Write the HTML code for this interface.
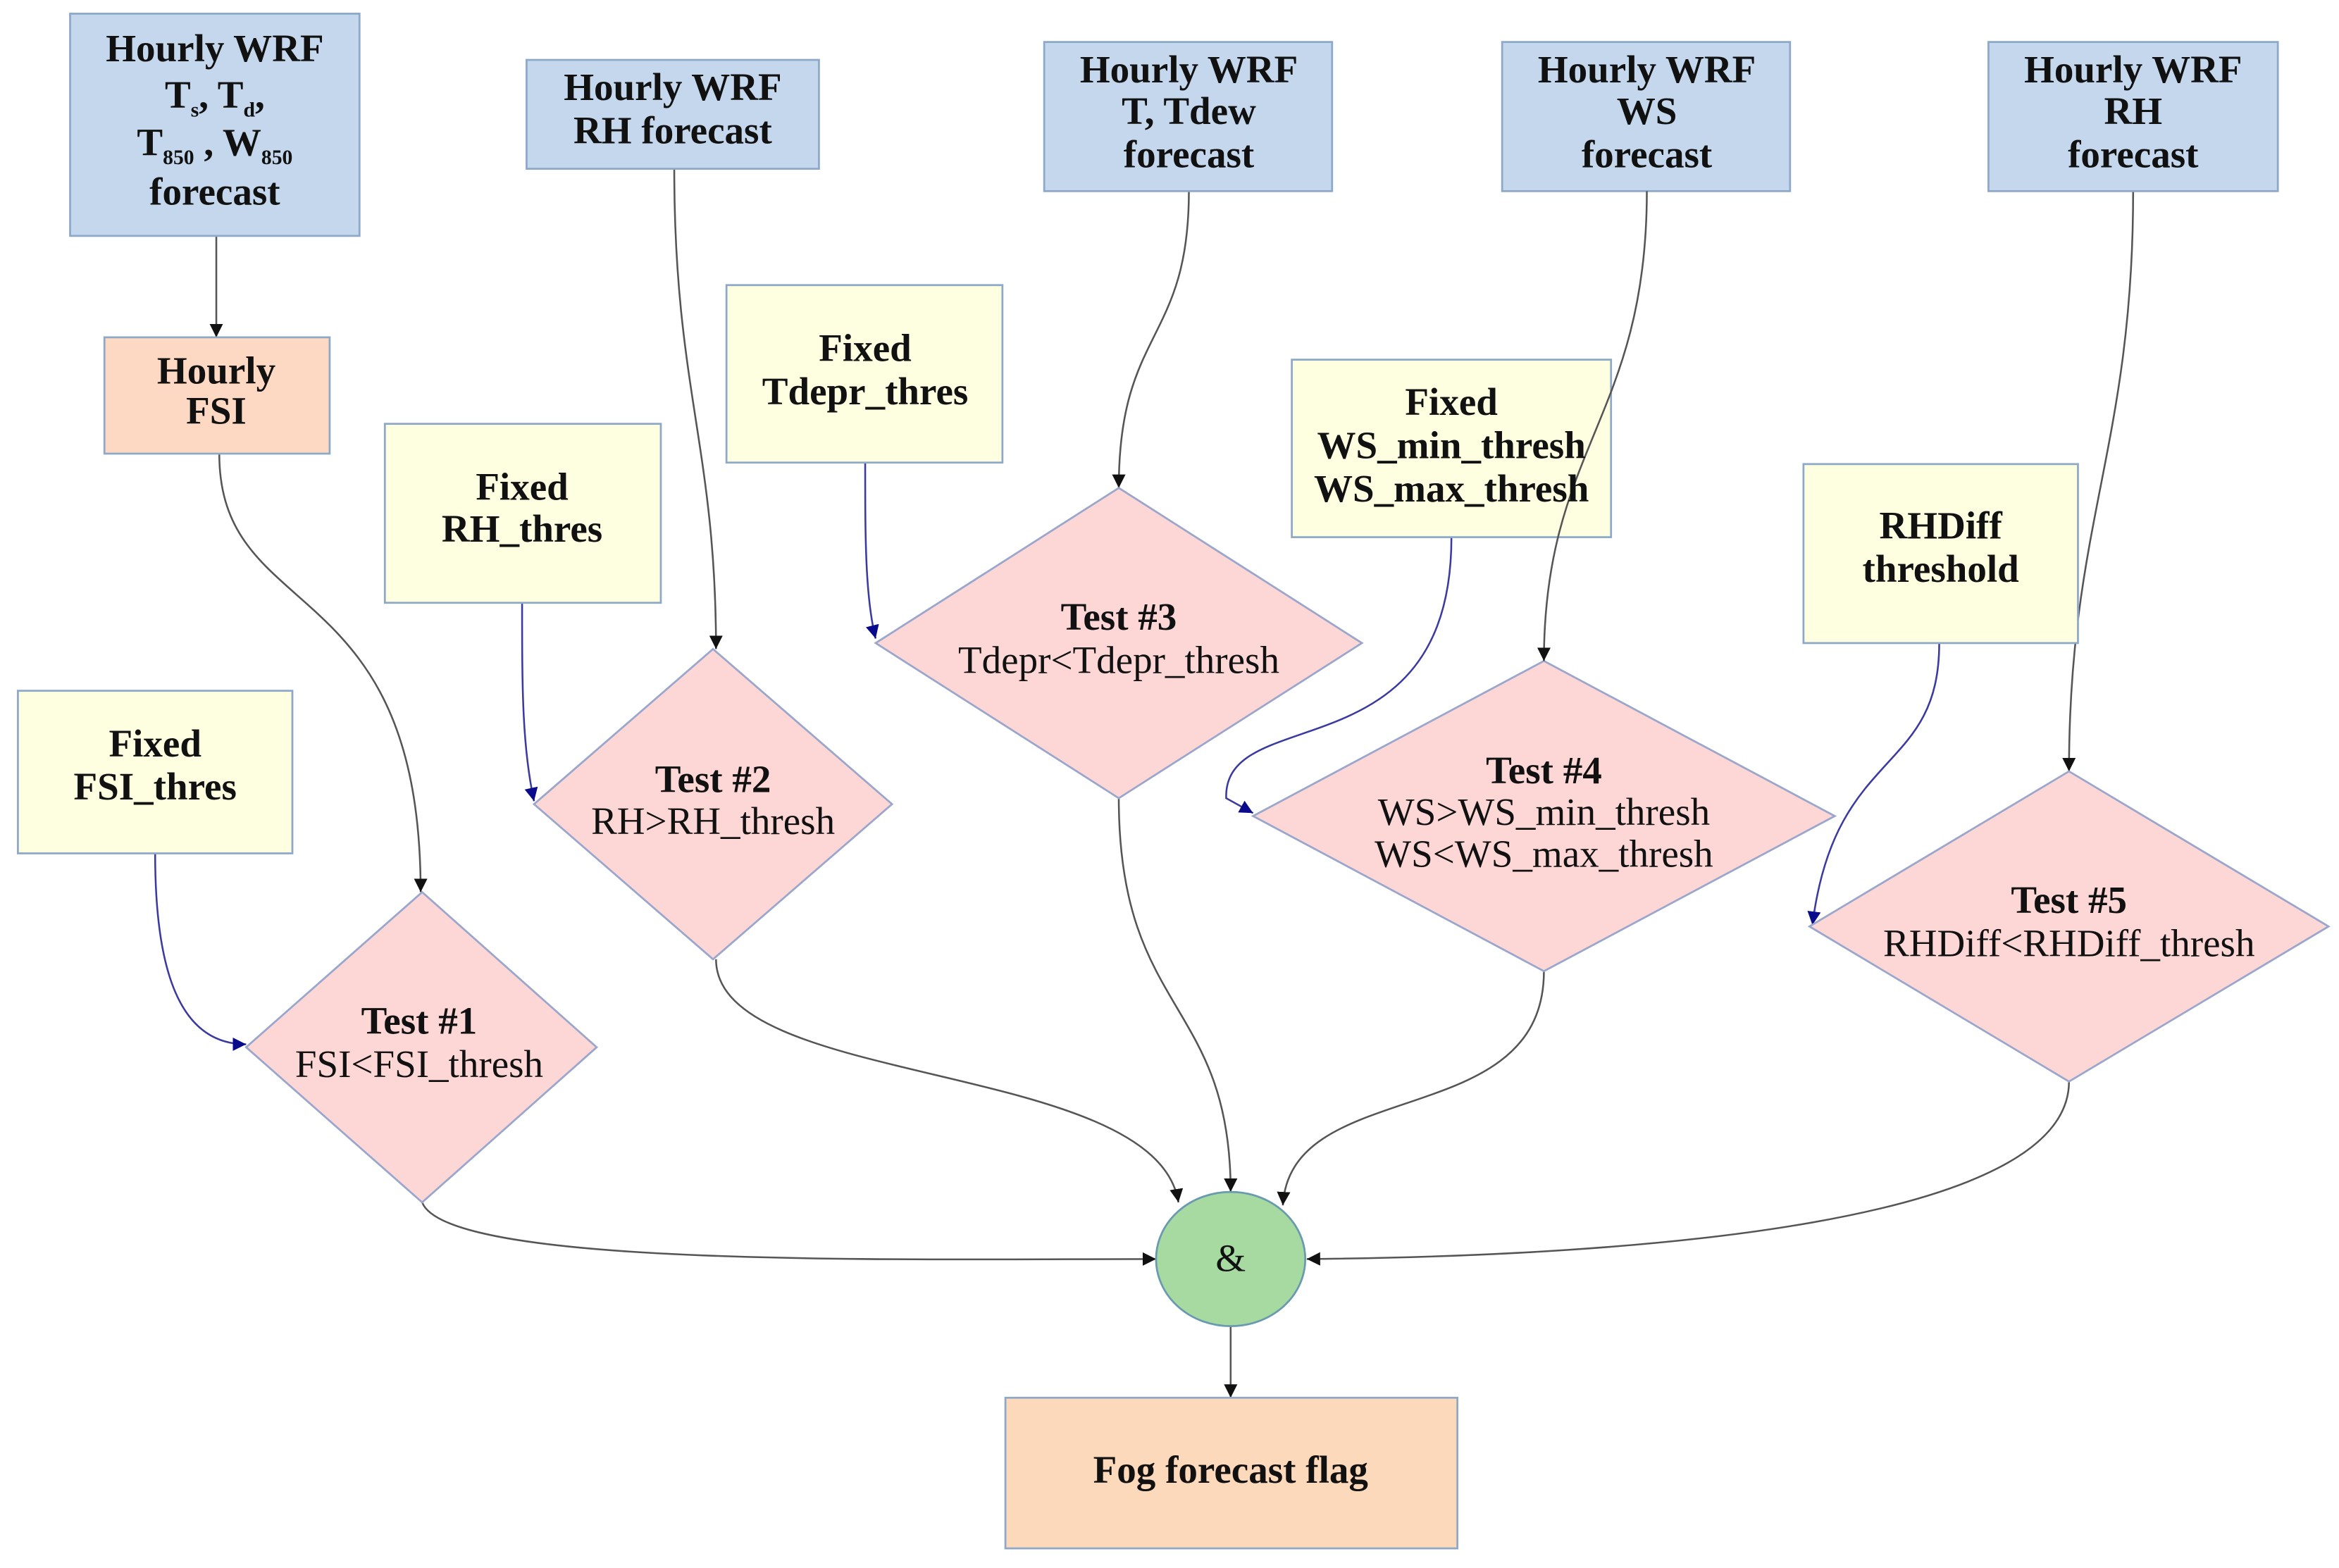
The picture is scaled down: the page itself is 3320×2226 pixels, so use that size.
<!DOCTYPE html>
<html><head><meta charset="utf-8"><style>
html,body{margin:0;padding:0;background:#fff;}
svg{display:block;}
text{font-family:"Liberation Serif",serif;fill:#111;text-anchor:middle;}
.b{font-weight:bold;}
</style></head><body>
<svg width="3320" height="2226" viewBox="0 0 1568 1051" xmlns="http://www.w3.org/2000/svg">
<defs>
<marker id="ak" viewBox="0 0 10 10" refX="10" refY="5" markerWidth="9" markerHeight="9" markerUnits="userSpaceOnUse" orient="auto"><path d="M0,0 L10,5 L0,10 z" fill="#111"/></marker>
<marker id="ab" viewBox="0 0 10 10" refX="10" refY="5" markerWidth="9" markerHeight="9" markerUnits="userSpaceOnUse" orient="auto"><path d="M0,0 L10,5 L0,10 z" fill="#0a0a8c"/></marker>
</defs>
<rect width="1568" height="1051" fill="#fff"/>
<g fill="none" stroke-width="1.2">
<g stroke="#555" marker-end="url(#ak)">
<path d="M145,158 L145,226"/>
<path d="M147,304 C147,420 282,380 282,598"/>
<path d="M452,113 C452,260 480,300 480,435"/>
<path d="M797,128 C797,230 750,220 750,327"/>
<path d="M1430,128 C1430,300 1387,350 1387,517"/>
<path d="M283,806 C300,850 600,844 775,844"/>
<path d="M480,643 C480,730 775,710 790,806"/>
<path d="M750,535 C750,680 825,670 825,799"/>
<path d="M1035,651 C1035,760 865,720 860,808"/>
<path d="M1387,725 C1387,820 1100,842 876,844"/>
<path d="M825,889 L825,937"/>
</g>
<g stroke="#3a3aa0" marker-end="url(#ab)">
<path d="M104,572 C104,650 120,700 165,700"/>
<path d="M350,404 C350,460 350,500 358,537"/>
<path d="M580,310 C580,360 580,400 587,428"/>
<path d="M973,360 C973,520 820,470 822,535 L840,545"/>
<path d="M1300,431 C1300,520 1230,500 1215,620"/>
</g>
</g>
<g stroke="#8ea8c8" stroke-width="1.3">
<rect x="47" y="9" width="194" height="149" fill="#c4d7ec"/>
<rect x="353" y="40" width="196" height="73" fill="#c4d7ec"/>
<rect x="700" y="28" width="193" height="100" fill="#c4d7ec"/>
<rect x="1007" y="28" width="193" height="100" fill="#c4d7ec"/>
<rect x="1333" y="28" width="194" height="100" fill="#c4d7ec"/>
<rect x="70" y="226" width="151" height="78" fill="#fdd9c3"/>
<rect x="674" y="937" width="303" height="101" fill="#fdd9bb"/>
<rect x="12" y="463" width="184" height="109" fill="#fefee0"/>
<rect x="258" y="284" width="185" height="120" fill="#fefee0"/>
<rect x="487" y="191" width="185" height="119" fill="#fefee0"/>
<rect x="866" y="241" width="214" height="119" fill="#fefee0"/>
<rect x="1209" y="311" width="184" height="120" fill="#fefee0"/>
<g fill="#fdd6d6" stroke="#9aa6cc">
<polygon points="283,598 400,702 283,806 165,702"/>
<polygon points="478,435 598,539 478,643 358,539"/>
<polygon points="750,327 913,431 750,535 587,431"/>
<polygon points="1035,443 1230,547 1035,651 840,547"/>
<polygon points="1387,517 1561,621 1387,725 1213,621"/>
</g>
<ellipse cx="825" cy="844" rx="50" ry="45" fill="#a6daa0" stroke="#6a9ab0"/>
</g>
<path d="M1104,128 C1104,280 1035,300 1035,443" fill="none" stroke="#555" stroke-width="1.2" marker-end="url(#ak)"/>
<g font-size="26">
<text class="b" x="144" y="41">Hourly WRF</text>
<text class="b" x="144" y="72">T<tspan font-size="14" dy="6">s</tspan><tspan dy="-6">, T</tspan><tspan font-size="14" dy="6">d</tspan><tspan dy="-6">,</tspan></text>
<text class="b" x="144" y="104">T<tspan font-size="14" dy="6">850</tspan><tspan dy="-6"> , W</tspan><tspan font-size="14" dy="6">850</tspan></text>
<text class="b" x="144" y="137">forecast</text>
<text class="b" x="451" y="67">Hourly WRF</text>
<text class="b" x="451" y="96">RH forecast</text>
<text class="b" x="797" y="55">Hourly WRF</text>
<text class="b" x="797" y="83">T, Tdew</text>
<text class="b" x="797" y="112">forecast</text>
<text class="b" x="1104" y="55">Hourly WRF</text>
<text class="b" x="1104" y="83">WS</text>
<text class="b" x="1104" y="112">forecast</text>
<text class="b" x="1430" y="55">Hourly WRF</text>
<text class="b" x="1430" y="83">RH</text>
<text class="b" x="1430" y="112">forecast</text>
<text class="b" x="145" y="257">Hourly</text>
<text class="b" x="145" y="284">FSI</text>
<text class="b" x="104" y="507">Fixed</text>
<text class="b" x="104" y="536">FSI_thres</text>
<text class="b" x="350" y="335">Fixed</text>
<text class="b" x="350" y="363">RH_thres</text>
<text class="b" x="580" y="242">Fixed</text>
<text class="b" x="580" y="271">Tdepr_thres</text>
<text class="b" x="973" y="278">Fixed</text>
<text class="b" x="973" y="307">WS_min_thresh</text>
<text class="b" x="973" y="336">WS_max_thresh</text>
<text class="b" x="1301" y="361">RHDiff</text>
<text class="b" x="1301" y="390">threshold</text>
<text class="b" x="281" y="693">Test #1</text>
<text x="281" y="722">FSI&lt;FSI_thresh</text>
<text class="b" x="478" y="531">Test #2</text>
<text x="478" y="559">RH&gt;RH_thresh</text>
<text class="b" x="750" y="422">Test #3</text>
<text x="750" y="451">Tdepr&lt;Tdepr_thresh</text>
<text class="b" x="1035" y="525">Test #4</text>
<text x="1035" y="553">WS&gt;WS_min_thresh</text>
<text x="1035" y="581">WS&lt;WS_max_thresh</text>
<text class="b" x="1387" y="612">Test #5</text>
<text x="1387" y="641">RHDiff&lt;RHDiff_thresh</text>
<text x="825" y="852">&amp;</text>
<text class="b" x="825" y="994">Fog forecast flag</text>
</g>
</svg>
</body></html>
